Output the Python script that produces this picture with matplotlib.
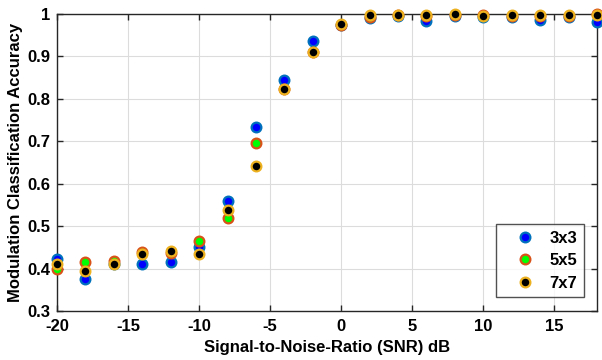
import matplotlib
import matplotlib.pyplot as plt

matplotlib.use("Agg")

snr_db = [-20, -18, -16, -14, -12, -10, -8, -6, -4, -2, 0, 2, 4, 6, 8, 10, 12, 14, 16, 18]

acc_3x3 = [0.422, 0.376, 0.412, 0.410, 0.416, 0.451, 0.559, 0.733, 0.845, 0.936,
           0.973, 0.990, 0.995, 0.984, 0.996, 0.994, 0.993, 0.986, 0.994, 0.982]
acc_5x5 = [0.398, 0.416, 0.419, 0.439, 0.437, 0.465, 0.520, 0.697, 0.823, 0.911,
           0.975, 0.993, 0.997, 0.996, 0.998, 0.997, 0.996, 0.996, 0.996, 0.999]
acc_7x7 = [0.411, 0.395, 0.411, 0.435, 0.442, 0.435, 0.539, 0.643, 0.823, 0.911,
           0.976, 0.997, 0.998, 0.998, 1.000, 0.995, 0.997, 0.997, 0.997, 0.997]

series = [
    ("3x3", acc_3x3, "#0000ff", "#0072bd"),
    ("5x5", acc_5x5, "#00ff00", "#d95319"),
    ("7x7", acc_7x7, "#000000", "#edb120"),
]

plt.rcParams["font.family"] = ["Liberation Sans", "DejaVu Sans"]
plt.rcParams["font.weight"] = "bold"
plt.rcParams["axes.unicode_minus"] = False

fig = plt.figure(figsize=(6.02, 3.6), dpi=100)
ax = fig.add_axes([0.0947, 0.136, 0.8970, 0.825])

for label, vals, face, edge in series:
    ax.plot(snr_db, vals, linestyle="none", marker="o", markersize=7,
            markerfacecolor=face, markeredgecolor=edge, markeredgewidth=1.6,
            label=label, clip_on=False, zorder=3)

ax.set_xlim(-20, 18)
ax.set_ylim(0.3, 1.0)
ax.set_xticks([-20, -15, -10, -5, 0, 5, 10, 15])
ax.set_yticks([0.3, 0.4, 0.5, 0.6, 0.7, 0.8, 0.9, 1.0])
ax.set_yticklabels(["0.3", "0.4", "0.5", "0.6", "0.7", "0.8", "0.9", "1"])
ax.grid(True, color="#dcdcdc", linewidth=0.8)
ax.set_axisbelow(True)
ax.tick_params(direction="in", length=4, width=1, labelsize=12, colors="#262626",
               top=True, right=True)
ax.tick_params(axis="x", pad=6)
ax.tick_params(axis="y", pad=5)
for lbl in ax.get_xticklabels() + ax.get_yticklabels():
    lbl.set_fontweight("bold")
    lbl.set_color("black")
for sp in ax.spines.values():
    sp.set_color("#262626")
    sp.set_linewidth(1.0)

ax.set_xlabel("Signal-to-Noise-Ratio (SNR) dB", fontsize=12, fontweight="bold", labelpad=4)
ax.set_ylabel("Modulation Classification Accuracy", fontsize=12, fontweight="bold", labelpad=3)

leg = ax.legend(loc="lower right", bbox_to_anchor=(0.976, 0.046), frameon=True,
                fancybox=False, edgecolor="#262626", fontsize=12, markerfirst=True,
                handletextpad=0.16, borderpad=0.4, labelspacing=0.45, handlelength=2.68,
                borderaxespad=0)
leg.get_frame().set_linewidth(1.0)
for t in leg.get_texts():
    t.set_fontweight("bold")

fig.savefig("out.png", dpi=100)
